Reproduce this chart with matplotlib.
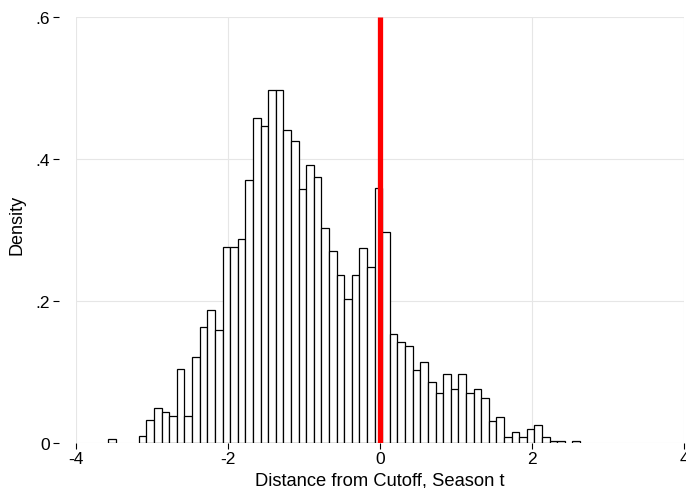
#!/usr/bin/env python3
# -*- coding: utf-8 -*-
"""
Histogram of the distance from the cutoff, season t, with the cutoff
marked by a red line.
"""
import numpy as np
import matplotlib.pyplot as plt

plt.rcParams['font.family'] = ['Liberation Sans', 'DejaVu Sans']

# Bins: left edge of the first bin and the bin width
bin_start = -3.57
bin_width = 0.1

# Density in each bin
density = [0.005, 0.0, 0.0, 0.0, 0.010, 0.032, 0.049, 0.043, 0.038, 0.104,
           0.038, 0.121, 0.164, 0.187, 0.159, 0.276, 0.276, 0.287, 0.370,
           0.458, 0.447, 0.497, 0.497, 0.441, 0.425, 0.358, 0.392, 0.375,
           0.303, 0.270, 0.237, 0.203, 0.237, 0.275, 0.248, 0.359, 0.297,
           0.153, 0.142, 0.136, 0.103, 0.114, 0.086, 0.070, 0.097, 0.076,
           0.097, 0.070, 0.076, 0.064, 0.031, 0.037, 0.009, 0.015, 0.009,
           0.020, 0.025, 0.009, 0.003, 0.003, 0.0, 0.003]

cutoff = 0.0
xticks = [-4, -2, 0, 2, 4]
yticks = [0, 0.2, 0.4, 0.6]
yticklabels = ["0", ".2", ".4", ".6"]

fig = plt.figure(figsize=(6.86, 4.89), dpi=100)
ax = fig.add_axes([75.7/686, 1 - 444/489, (684.3 - 75.7)/686, (444 - 18)/489])

lefts = bin_start + bin_width*np.arange(len(density))
heights = np.array(density)
mask = heights > 0
ax.bar(lefts[mask], heights[mask], width=bin_width, align="edge",
       facecolor="white", edgecolor="black", linewidth=0.9, zorder=3)
ax.vlines(cutoff, 0, 0.6, colors="#ff0000", linewidth=3.8, zorder=4)

ax.set_xlim(-4, 4)
ax.set_ylim(0, 0.6)
ax.set_xticks(xticks)
ax.set_xticklabels([str(t) for t in xticks])
ax.set_yticks(yticks)
ax.set_yticklabels(yticklabels)
ax.grid(True, color="#e6e6e6", linewidth=0.8, zorder=0)
ax.set_axisbelow(True)

for side in ["top", "right", "bottom", "left"]:
    ax.spines[side].set_visible(False)
ax.spines["left"].set_position(("outward", 12))
ax.tick_params(axis="y", length=4.5, width=0.8, pad=2, labelsize=12.5)
ax.tick_params(axis="x", length=4.5, width=0.8, pad=1, labelsize=12.5)

ax.set_xlabel("Distance from Cutoff, Season t", fontsize=13.2)
ax.set_ylabel("Density", fontsize=13)
ax.xaxis.set_label_coords(0.5, -0.068)
ax.yaxis.set_label_coords(-0.083, 0.514)

fig.savefig("out.png", dpi=100)
